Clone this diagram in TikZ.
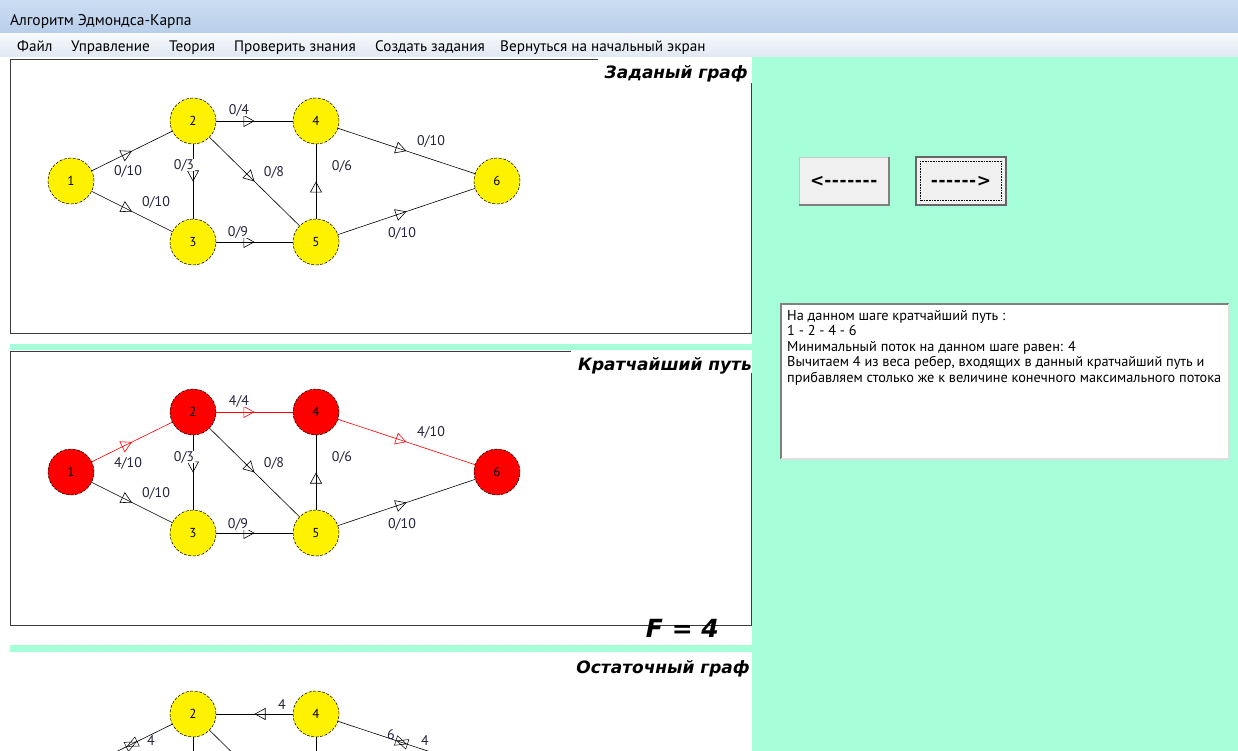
\documentclass[tikz,border=0pt]{standalone}
\usepackage{fontspec}
\setmainfont{PT Sans}
\newfontfamily\heavyui{DejaVu Sans}[BoldFont={DejaVu Sans Bold},BoldItalicFont={DejaVu Sans Bold Oblique}]
\usetikzlibrary{arrows.meta,decorations.markings}
\definecolor{mint}{RGB}{167,255,218}
\definecolor{barA}{RGB}{204,221,242}
\definecolor{barB}{RGB}{183,206,234}
\definecolor{menuA}{RGB}{247,249,252}
\definecolor{menuB}{RGB}{224,232,243}
\definecolor{frame}{RGB}{60,60,60}
\definecolor{ink}{RGB}{35,35,60}
\definecolor{btnbg}{RGB}{240,240,240}
\newcommand\hy{-\kern0.6pt}
\begin{document}
\begin{tikzpicture}[x=1pt,y=-1pt,
  vertex/.style={circle,draw,dash pattern=on 3pt off 1.5pt,line width=0.5pt,fill=yellow,
    minimum size=46pt,inner sep=0pt,font=\fontsize{13}{13}\selectfont},
  hot/.style={vertex,fill=red},
  flow/.style={line width=0.6pt,postaction={decorate,decoration={markings,
    mark=at position #1 with {\arrow{Triangle[open,length=11pt,width=12pt]}}}}},
  flow/.default=0.5,
  both/.style={line width=0.6pt,postaction={decorate,decoration={markings,
    mark=at position #1 with {\draw[line width=0.5pt] (-6pt,-5pt) -- (5pt,0pt) -- (-6pt,5pt) -- cycle
      (6pt,-5pt) -- (-5pt,0pt) -- (6pt,5pt) -- cycle;}}}},
  both/.default=0.5,
  plain/.style={line width=0.6pt},
  wt/.style={fill=white,inner sep=0.5pt,text=ink,font=\fontsize{14}{14}\selectfont},
  rest/.style={text=ink,inner sep=0pt,font=\fontsize{14}{14}\selectfont},
  caption/.style={anchor=base east,inner sep=0pt,font=\heavyui\fontsize{17}{18}\selectfont\bfseries\itshape},
  menu/.style={anchor=base west,inner sep=0pt,font=\fontsize{15.2}{16}\selectfont},
  btn/.style={fill=btnbg,minimum width=90pt,minimum height=48pt,inner sep=0pt,
    font=\heavyui\fontsize{17}{17}\selectfont\bfseries},
  info/.style={anchor=north west,align=left,inner sep=0pt,font=\fontsize{14.3}{15.5}\selectfont}]

\useasboundingbox (0,0) rectangle (1238,751);

% window background
\shade[top color=barA,bottom color=barB] (0,0) rectangle (1238,34);
\shade[top color=menuA,bottom color=menuB] (0,34) rectangle (1238,57);
\fill[white] (0,57) rectangle (752,751);
\fill[mint] (752,57) rectangle (1238,751);
\fill[mint] (10,344) rectangle (752,350);
\fill[mint] (10,645) rectangle (752,652);

\node[anchor=base west,inner sep=0pt,font=\fontsize{15.5}{16}\selectfont] (wintitle) at (10,26) {Алгоритм Эдмондса-Карпа};
\node[menu] (m1) at (17,52) {Файл};
\node[menu] (m2) at (71,52) {Управление};
\node[menu] (m3) at (169,52) {Теория};
\node[menu] (m4) at (234,52) {Проверить знания};
\node[menu] (m5) at (375,52) {Создать задания};
\node[menu] (m6) at (500,52) {Вернуться на начальный экран};

% panel frames
\draw[frame,line width=1pt] (598,60) -- (10,60) -- (10,333) -- (751,333) -- (751,83);
\draw[frame,line width=1pt] (571,351) -- (10,351) -- (10,625) -- (751,625) -- (751,373);
\node[caption] (cap1) at (748,79) {Заданый граф};
\node[caption] (cap2) at (752,370) {Кратчайший путь};
\node[caption] (cap3) at (750,673) {Остаточный граф};
\node[anchor=base east,inner sep=0pt,font=\heavyui\fontsize{25}{25}\selectfont\bfseries\itshape] (total) at (719,637) {F = 4};

% given graph
\node[vertex] (a1) at (71,181) {1};
\node[vertex] (a2) at (193,121) {2};
\node[vertex] (a3) at (193,242) {3};
\node[vertex] (a4) at (316,121) {4};
\node[vertex] (a5) at (316,242) {5};
\node[vertex] (a6) at (497,181) {6};
\draw[flow] (a1) -- (a2);
\draw[flow] (a1) -- (a3);
\draw[flow] (a2) -- (a4);
\draw[flow] (a2) -- (a3);
\draw[flow] (a2) -- (a5);
\draw[flow] (a3) -- (a5);
\draw[flow] (a5) -- (a4);
\draw[flow] (a4) -- (a6);
\draw[flow] (a5) -- (a6);
\node[wt] at (128,171) {0/10};
\node[wt] at (156,202) {0/10};
\node[wt] at (239,110) {0/4};
\node[wt] at (184,165) {0/3};
\node[wt] at (274,172) {0/8};
\node[wt] at (342,166) {0/6};
\node[wt] at (238,232) {0/9};
\node[wt] at (431,141) {0/10};
\node[wt] at (402,233) {0/10};

% shortest path
\node[hot] (b1) at (71,472) {1};
\node[hot] (b2) at (193,412) {2};
\node[vertex] (b3) at (193,533) {3};
\node[hot] (b4) at (316,412) {4};
\node[vertex] (b5) at (316,533) {5};
\node[hot] (b6) at (497,472) {6};
\draw[flow,red] (b1) -- (b2);
\draw[flow] (b1) -- (b3);
\draw[flow,red] (b2) -- (b4);
\draw[flow] (b2) -- (b3);
\draw[flow] (b2) -- (b5);
\draw[flow] (b3) -- (b5);
\draw[flow] (b5) -- (b4);
\draw[flow,red] (b4) -- (b6);
\draw[flow] (b5) -- (b6);
\node[wt] at (128,463) {4/10};
\node[wt] at (156,493) {0/10};
\node[wt] at (239,401) {4/4};
\node[wt] at (184,457) {0/3};
\node[wt] at (274,463) {0/8};
\node[wt] at (342,457) {0/6};
\node[wt] at (238,524) {0/9};
\node[wt] at (431,432) {4/10};
\node[wt] at (402,524) {0/10};

% residual graph
\begin{scope}
\clip (10,652) rectangle (752,751);
\node[vertex] (c2) at (193,714) {2};
\node[vertex] (c4) at (316,714) {4};
\coordinate (c1) at (71,774);
\coordinate (c3) at (193,835);
\coordinate (c5) at (316,835);
\coordinate (c6) at (497,774);
\draw[both=0.4] (c2) -- (c1);
\draw[plain] (c2) -- (c3);
\draw[plain] (c2) -- (c5);
\draw[flow] (c4) -- (c2);
\draw[plain] (c4) -- (c5);
\draw[both=0.4] (c4) -- (c6);
\node[rest] at (282,705) {4};
\node[rest] at (151,741) {4};
\node[rest] at (391,735) {6};
\node[rest] at (425,741) {4};
\end{scope}

% buttons
\node[btn,draw=gray!45] (back) at (844,181) {<\hy\hy\hy\hy\hy\hy\hy};
\draw[gray,line width=1.5pt] (back.north east) -- (back.south east) -- (back.south west);
\node[btn,draw=gray!80!black,line width=1.5pt] (fwd) at (961,181) {\hy\hy\hy\hy\hy\hy>};
\draw[densely dotted,line width=0.6pt] ([shift={(5,5)}]fwd.north west) rectangle ([shift={(-5,-5)}]fwd.south east);

% message box
\fill[white] (781,304) rectangle (1229,459);
\draw[gray,line width=1.5pt] (781,459) -- (781,304) -- (1229,304);
\draw[gray!25,line width=1.5pt] (1229,304) -- (1229,459) -- (781,459);
\node[info] (note) at (787,310) {На данном шаге кратчайший путь :\\
1 - 2 - 4 - 6\\
Минимальный поток на данном шаге равен: 4\\
Вычитаем 4 из веса ребер, входящих в данный кратчайший путь и\\
прибавляем столько же к величине конечного максимального потока};

\end{tikzpicture}
\end{document}
